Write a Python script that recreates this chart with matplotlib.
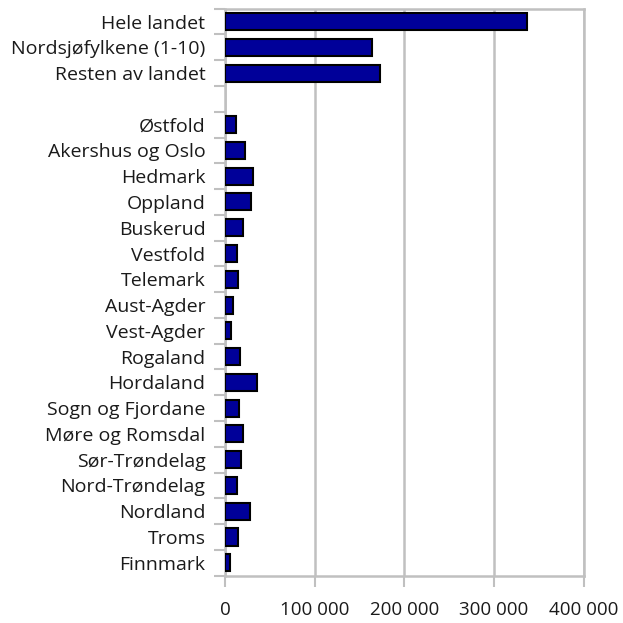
import matplotlib.pyplot as plt
import matplotlib.ticker as mticker
import numpy as np

plt.rcParams['font.family'] = ['Open Sans', 'DejaVu Sans']

# categories top -> bottom, '' is the empty gap row
labels = ['Hele landet', 'Nordsjøfylkene (1-10)', 'Resten av landet', '',
          'Østfold', 'Akershus og Oslo', 'Hedmark', 'Oppland', 'Buskerud',
          'Vestfold', 'Telemark', 'Aust-Agder', 'Vest-Agder', 'Rogaland',
          'Hordaland', 'Sogn og Fjordane', 'Møre og Romsdal', 'Sør-Trøndelag',
          'Nord-Trøndelag', 'Nordland', 'Troms', 'Finnmark']
values = [337000, 163500, 172800, 0,
          12000, 22700, 31200, 29400, 19700,
          13000, 14100, 8500, 6700, 16400,
          35700, 15600, 20400, 17500,
          13000, 28200, 14900, 5200]

grey = '#c0c0c0'

fig = plt.figure(figsize=(6.23, 6.23), dpi=100)
ax = fig.add_axes([0.361, 0.076, 0.576, 0.910])

pos = np.arange(len(labels))
heights = [0.66 if v > 0 else 0 for v in values]
ax.barh(pos, values, height=heights, color='#000099', edgecolor='black',
        linewidth=1.5, zorder=3)

ax.set_xlim(0, 400000)
ax.set_ylim(len(labels) - 0.5, -0.5)

ax.set_xticks([0, 100000, 200000, 300000, 400000])
ax.xaxis.set_major_formatter(mticker.FuncFormatter(
    lambda v, p: '{:,.0f}'.format(v).replace(',', ' ')))
ax.set_yticks(pos)
ax.set_yticklabels(labels)
ax.set_yticks(np.arange(-0.5, len(labels), 1), minor=True)

ax.tick_params(axis='y', which='major', length=0, pad=14, labelsize=14,
               labelcolor='#1a1a1a')
ax.tick_params(axis='y', which='minor', length=8, width=1.5, color=grey)
ax.tick_params(axis='x', length=8, width=1.5, color=grey, pad=10,
               labelsize=13.5, labelcolor='#1a1a1a')

ax.grid(axis='x', color=grey, linewidth=1.8, zorder=0)
for s in ax.spines.values():
    s.set_color(grey)
    s.set_linewidth(1.8)

fig.savefig('out.png', dpi=100)
